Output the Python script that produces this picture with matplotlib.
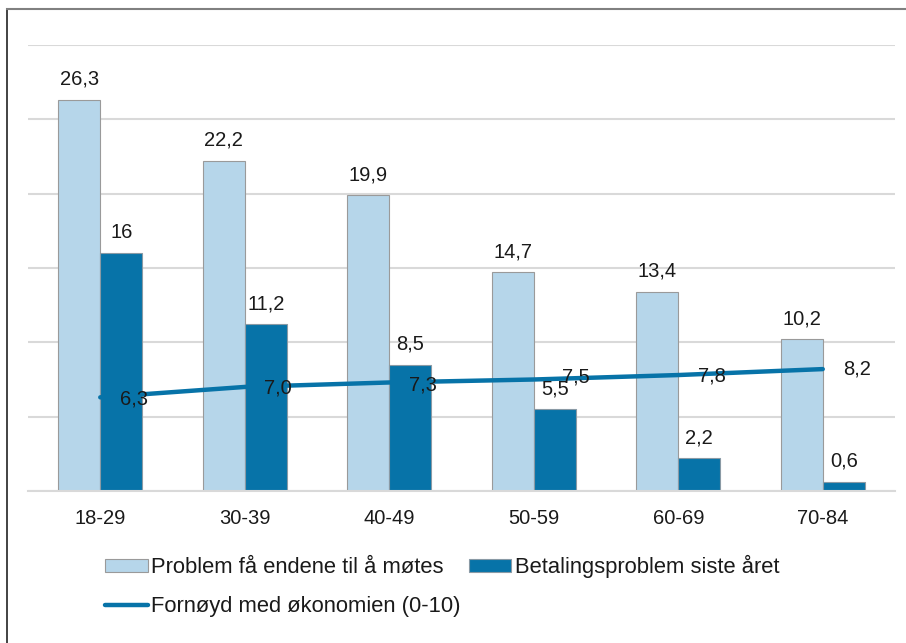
import matplotlib
matplotlib.use("Agg")
import matplotlib.pyplot as plt
from matplotlib.lines import Line2D
import numpy as np

plt.rcParams['font.family'] = ['Liberation Sans', 'DejaVu Sans']

# Age groups and survey results
age_groups = ["18-29", "30-39", "40-49", "50-59", "60-69", "70-84"]
ends_meet = [26.3, 22.2, 19.9, 14.7, 13.4, 10.2]
payment_problems = [16, 11.2, 8.5, 5.5, 2.2, 0.6]
satisfaction = [6.3, 7.0, 7.3, 7.5, 7.8, 8.2]

series_names = ["Problem få endene til å møtes",
                "Betalingsproblem siste året",
                "Fornøyd med økonomien (0-10)"]

LIGHT = "#b6d6ea"
DARK = "#0773a8"
TEXT = "#1a1a1a"
GRID = "#d9d9d9"
FS = 14.5
FS_LEG = 15.8


def fmt_bar(v):
    s = f"{v:g}" if float(v).is_integer() else f"{v:.1f}"
    return s.replace(".", ",")


def fmt_line(v):
    return f"{v:.1f}".replace(".", ",")


W, H = 906, 643
fig = plt.figure(figsize=(W / 100, H / 100), dpi=100)
ax = fig.add_axes([28 / W, 152 / H, 867 / W, 446 / H])

x = np.arange(len(age_groups))
bw = 0.29

b1 = ax.bar(x - bw / 2, ends_meet, bw, color=LIGHT, edgecolor="#9a9a9a",
            linewidth=0.8, zorder=2, label=series_names[0])
b2 = ax.bar(x + bw / 2, payment_problems, bw, color=DARK, edgecolor="#8a9aa5",
            linewidth=0.8, zorder=2, label=series_names[1])
ln, = ax.plot(x, satisfaction, color=DARK, linewidth=3.2,
              solid_capstyle="round", zorder=4, label=series_names[2])

for rects, vals in ((b1, ends_meet), (b2, payment_problems)):
    for r, v in zip(rects, vals):
        ax.annotate(fmt_bar(v), (r.get_x() + r.get_width() / 2, v),
                    xytext=(0, 8), textcoords="offset points",
                    ha="center", va="bottom", fontsize=FS, color=TEXT, zorder=5)

# value labels for the line, set to the right of each point
line_nudges = [(14, -1), (14, -1), (14, -2), (20, 2), (14, -1), (15, 0)]
for xi, v, (dx, dy) in zip(x, satisfaction, line_nudges):
    ax.annotate(fmt_line(v), (xi, v), xytext=(dx, dy), textcoords="offset points",
                ha="left", va="center", fontsize=FS, color=TEXT, zorder=6)

ax.set_xlim(-0.5, len(age_groups) - 0.5)
ax.set_ylim(0, 30)
ax.set_yticks(np.arange(0, 31, 5))
ax.yaxis.grid(True, color=GRID, linewidth=1.5, zorder=0)
ax.set_axisbelow(True)
ax.tick_params(axis="y", left=False, labelleft=False)
ax.set_xticks(x)
ax.set_xticklabels(age_groups, fontsize=FS, color=TEXT)
ax.tick_params(axis="x", length=0, pad=13)
for s in ("top", "right", "left"):
    ax.spines[s].set_visible(False)
ax.spines["bottom"].set_color(GRID)
ax.spines["bottom"].set_linewidth(1.5)

fig.legend([b1, ln, b2], [series_names[0], series_names[2], series_names[1]],
           ncol=2, loc="center left", bbox_to_anchor=(105 / W, 57 / H),
           frameon=False, fontsize=FS_LEG, handlelength=1.95, handleheight=0.5,
           handletextpad=0.14, columnspacing=0.38, labelspacing=0.8,
           borderpad=0, borderaxespad=0, labelcolor=TEXT)

# outer frame (left and top edges)
fig.add_artist(Line2D([7 / W, 7 / W], [0, 1 - 9 / H], transform=fig.transFigure,
                      color="#222222", linewidth=1.2))
fig.add_artist(Line2D([7 / W, 1], [1 - 9 / H, 1 - 9 / H], transform=fig.transFigure,
                      color="#808080", linewidth=1.5))

fig.savefig("out.png", dpi=100)
